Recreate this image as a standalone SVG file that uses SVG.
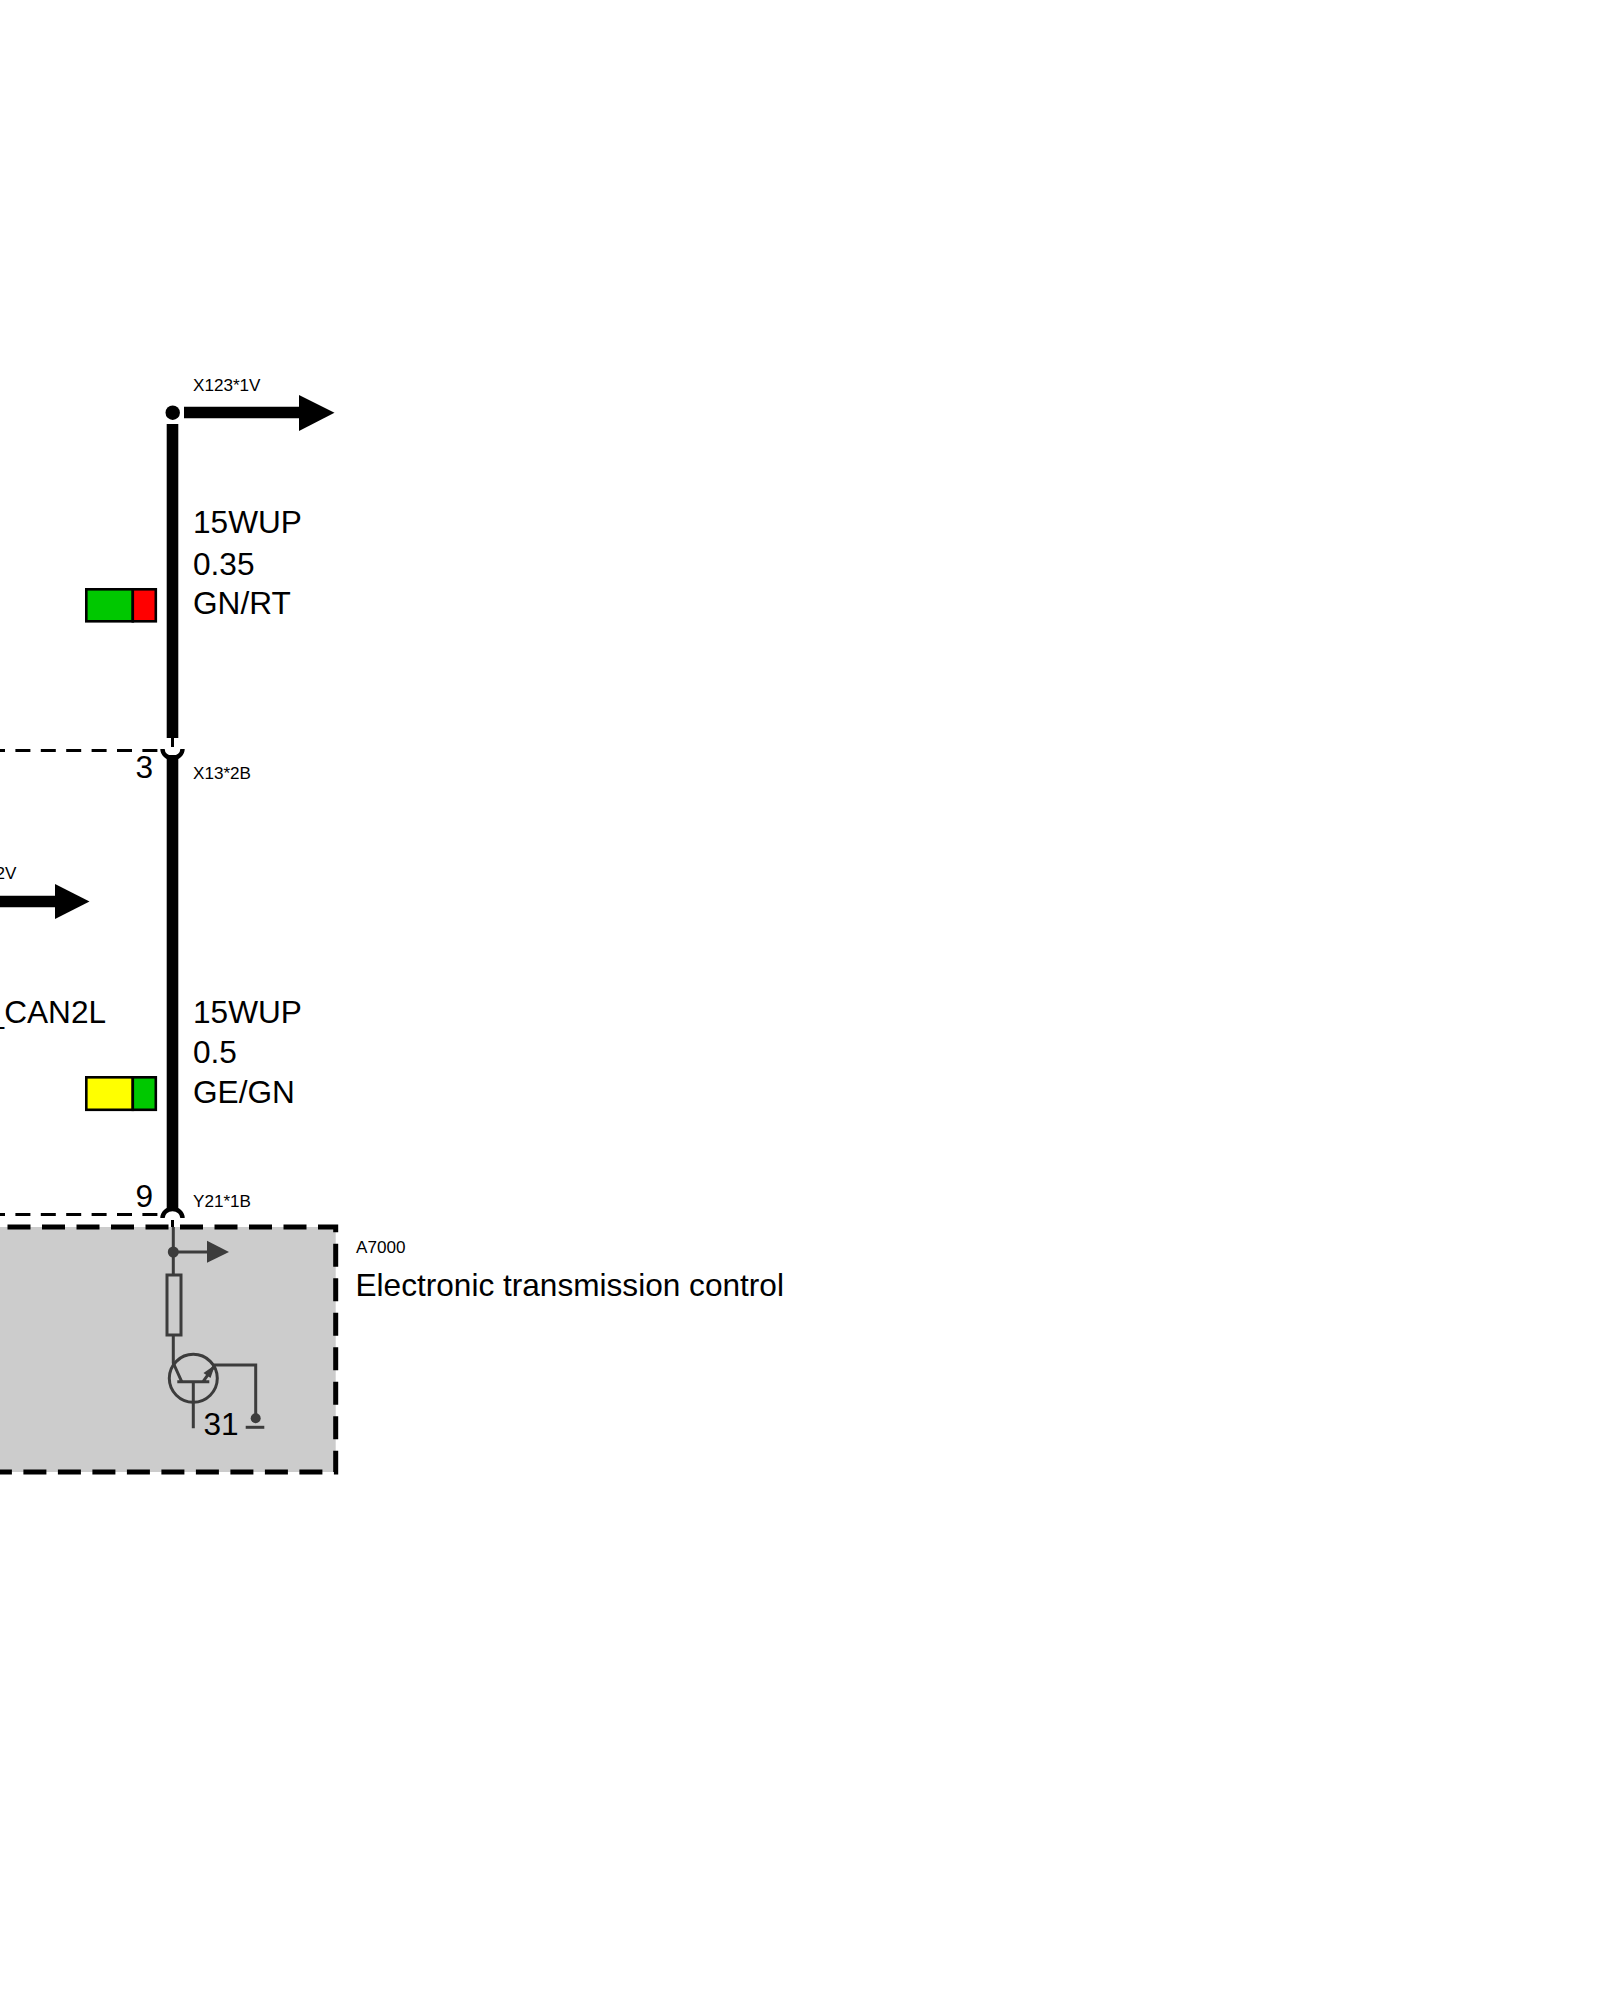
<svg xmlns="http://www.w3.org/2000/svg" width="1600" height="2000" viewBox="0 0 1600 2000">
<style>
text{font-family:"Liberation Sans",Arial,sans-serif;fill:#000}
.lg{font-size:31.6px}
.sm{font-size:17.1px}
.wire{fill:none;stroke:#000;stroke-width:11.6}
.dash{fill:none;stroke:#000;stroke-width:3;stroke-dasharray:15 10.4}
.tick{fill:none;stroke:#000;stroke-width:3}
.cup{fill:none;stroke:#000;stroke-width:4.4}
.sym{fill:none;stroke:#3c3c3c;stroke-width:3}
.symf{fill:#3c3c3c}
.sw{stroke:#000;stroke-width:2.6}
</style>
<rect width="1600" height="2000" fill="#fff"/>
<g id="module-A7000">
<rect x="-10" y="1227" width="345.7" height="245" fill="#ccc"/>
<path d="M-27 1227H335.7V1472H-27" fill="none" stroke="#000" stroke-width="5" stroke-dasharray="23 11.5"/>
<text class="sm" x="356" y="1253">A7000</text>
<text class="lg" x="355.5" y="1296">Electronic transmission control</text>
<text class="lg" x="203.5" y="1434.5">31</text>
</g>
<g id="module-circuit">
<path class="sym" d="M173.3 1227V1275M173.3 1335V1363L181.7 1381.7"/>
<circle class="symf" cx="173.3" cy="1252" r="5.5"/>
<path class="sym" d="M173.3 1252H208"/>
<path class="symf" d="M207 1240.7L229 1252L207 1262.7Z"/>
<rect class="sym" x="167" y="1275" width="14" height="60"/>
<circle class="sym" cx="193.3" cy="1378.3" r="24"/>
<path class="sym" d="M177.3 1381.7H209.3M193.3 1381.7V1428.3M203 1381.7L215 1365H255.7V1418"/>
<path class="symf" d="M215 1365L210.5 1378L203.5 1373Z"/>
<circle class="symf" cx="255.7" cy="1418.3" r="5"/>
<path class="sym" d="M245.7 1427.3H264.3"/>
</g>
<g id="connectors">
<path class="wire" d="M172.5 424V738"/>
<path class="wire" d="M172.5 755V1210"/>
<path class="wire" d="M184 412.5H300"/>
<path d="M299 395L334.5 412.8L299 431Z"/>
<circle cx="172.7" cy="412.7" r="7.2"/>
<path class="wire" d="M0 901.5H56"/>
<path d="M55 884L89.5 901.5L55 919Z"/>
<path class="dash" d="M-10 750.5H163"/>
<path class="dash" d="M-10 1214.5H163"/>
<path class="tick" d="M172.5 738V747"/>
<path class="tick" d="M172.5 1220V1227"/>
<path class="cup" d="M162.5 749A10 9 0 0 0 182.5 749"/>
<path class="cup" d="M162.5 1218A10 9 0 0 1 182.5 1218"/>
</g>
<g id="wire-label-top">
<text class="sm" x="193" y="391">X123*1V</text>
<text class="lg" x="193" y="533">15WUP</text>
<text class="lg" x="193" y="575">0.35</text>
<text class="lg" x="193" y="614">GN/RT</text>
<rect class="sw" x="86.3" y="589.3" width="46.5" height="32" fill="#00c800"/>
<rect class="sw" x="132.8" y="589.3" width="23" height="32" fill="#f00"/>
</g>
<g id="connector-X13">
<text class="lg" x="135.5" y="778">3</text>
<text class="sm" x="193" y="779">X13*2B</text>
</g>
<g id="arrow-label-left">
<text class="sm" x="16.5" y="879" text-anchor="end">2V</text>
<text class="lg" x="-13.4" y="1023">_CAN2L</text>
</g>
<g id="wire-label-bottom">
<text class="lg" x="193" y="1023">15WUP</text>
<text class="lg" x="193" y="1063">0.5</text>
<text class="lg" x="193" y="1103">GE/GN</text>
<rect class="sw" x="86.3" y="1077.3" width="46.5" height="32.5" fill="#ff0"/>
<rect class="sw" x="132.8" y="1077.3" width="23" height="32.5" fill="#00c800"/>
</g>
<g id="connector-Y21">
<text class="lg" x="135.5" y="1207">9</text>
<text class="sm" x="193" y="1207">Y21*1B</text>
</g>
</svg>
